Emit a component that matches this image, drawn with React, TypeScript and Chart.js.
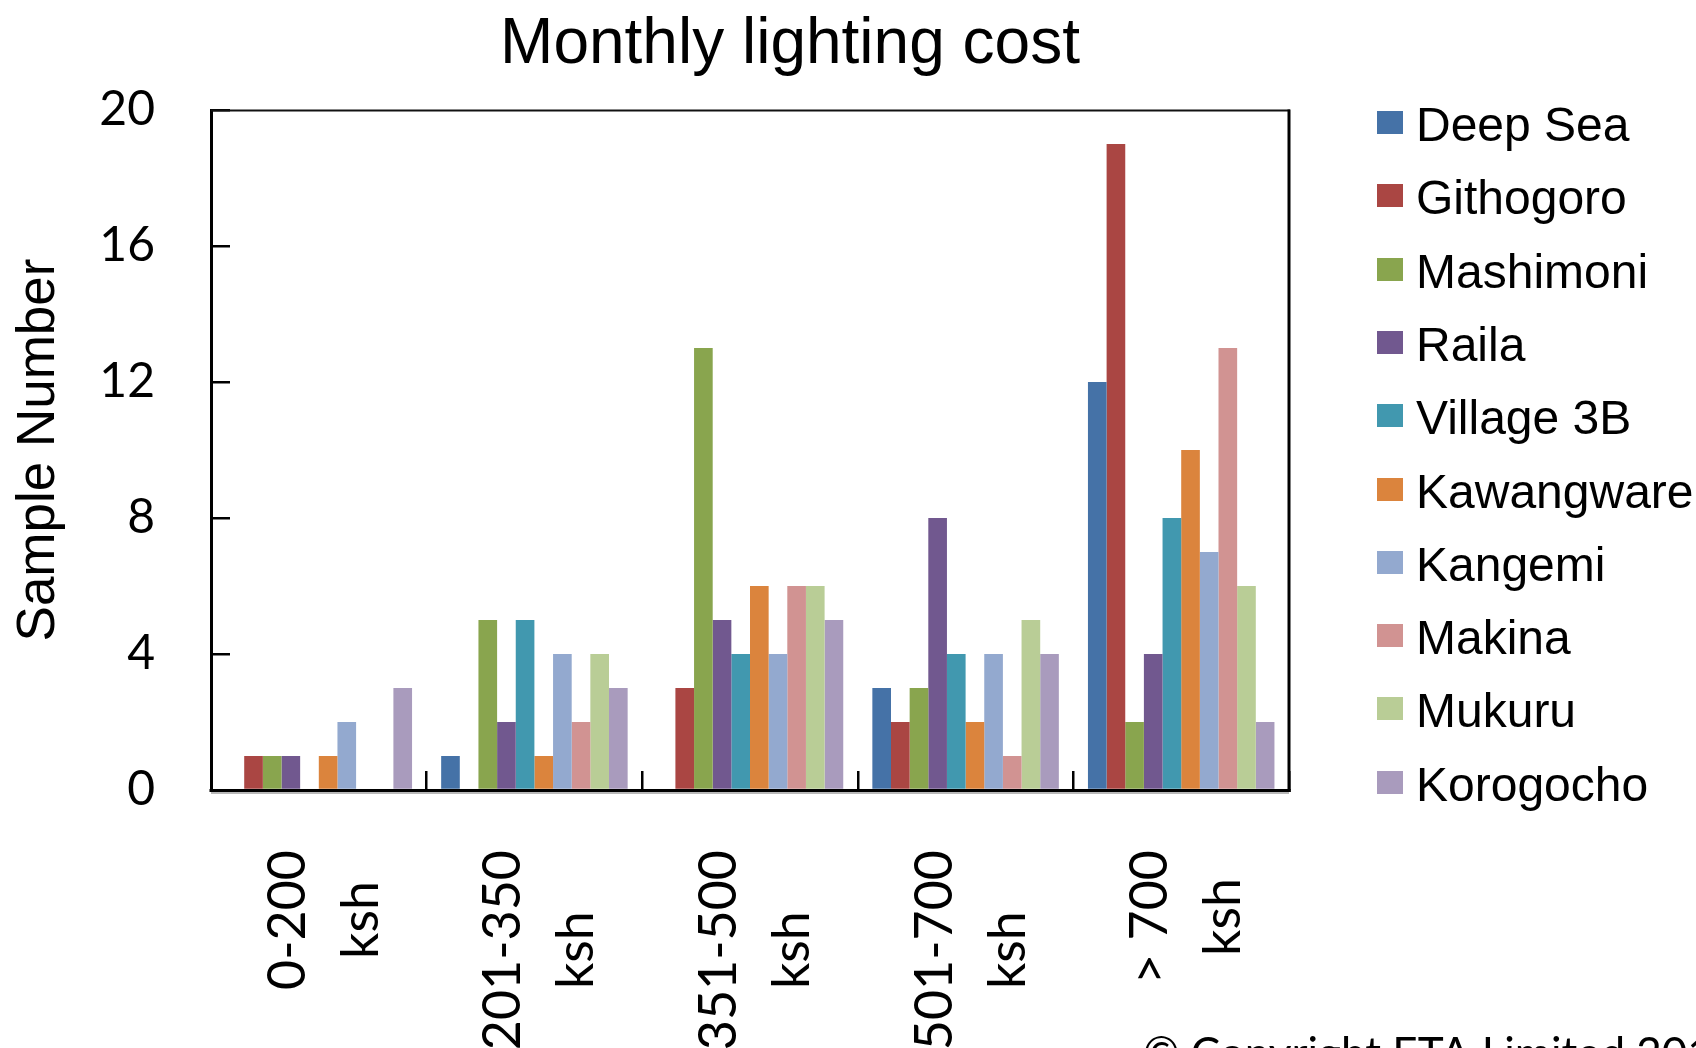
import React, { useEffect, useRef } from 'react';
import { Chart, registerables } from 'chart.js';

Chart.register(...registerables);

// ---- data ----
const categories: string[][] = [
  ['0-200', 'ksh'],
  ['201-350', 'ksh'],
  ['351-500', 'ksh'],
  ['501-700', 'ksh'],
  ['> 700', 'ksh'],
];

const seriesNames = [
  'Deep Sea',
  'Githogoro',
  'Mashimoni',
  'Raila',
  'Village 3B',
  'Kawangware',
  'Kangemi',
  'Makina',
  'Mukuru',
  'Korogocho',
];

const deepSea = [0, 1, 0, 3, 12];
const githogoro = [1, 0, 3, 2, 19];
const mashimoni = [1, 5, 13, 3, 2];
const raila = [1, 2, 5, 8, 4];
const village3B = [0, 5, 4, 4, 8];
const kawangware = [1, 1, 6, 2, 10];
const kangemi = [2, 4, 4, 4, 7];
const makina = [0, 2, 6, 1, 13];
const mukuru = [0, 4, 6, 5, 6];
const korogocho = [3, 3, 5, 4, 2];

const seriesValues = [
  deepSea,
  githogoro,
  mashimoni,
  raila,
  village3B,
  kawangware,
  kangemi,
  makina,
  mukuru,
  korogocho,
];

const seriesColors = [
  '#4572A7',
  '#AA4643',
  '#89A54E',
  '#71588F',
  '#4198AF',
  '#DB843D',
  '#93A9CF',
  '#D19392',
  '#B9CD96',
  '#A99BBD',
];

const yTicks = [0, 4, 8, 12, 16, 20];
const chartTitle = 'Monthly lighting cost';
const yAxisTitle = 'Sample Number';
const copyrightText = '\u00A9 Copyright ETA Limited 201';

// ---- decorations plugin ----
const decorPlugin = {
  id: 'decor',
  afterDatasetsDraw(chart: any) {
    const { ctx, chartArea: a } = chart;
    ctx.save();
    // top border
    ctx.strokeStyle = '#111';
    ctx.lineWidth = 2;
    ctx.beginPath();
    ctx.moveTo(a.left, a.top + 0.5);
    ctx.lineTo(a.right + 1, a.top + 0.5);
    ctx.stroke();
    // right border
    ctx.strokeStyle = '#000';
    ctx.lineWidth = 3;
    ctx.beginPath();
    ctx.moveTo(a.right, a.top - 0.5);
    ctx.lineTo(a.right, a.bottom);
    ctx.stroke();
    // bottom axis shadow + axis
    ctx.strokeStyle = 'rgba(0,0,0,0.28)';
    ctx.lineWidth = 2;
    ctx.beginPath();
    ctx.moveTo(a.left, a.bottom + 3);
    ctx.lineTo(a.right, a.bottom + 3);
    ctx.stroke();
    ctx.strokeStyle = '#000';
    ctx.lineWidth = 3;
    ctx.beginPath();
    ctx.moveTo(a.left - 1.5, a.bottom + 0.5);
    ctx.lineTo(a.right + 1.5, a.bottom + 0.5);
    ctx.stroke();
    ctx.restore();
  },
  afterDraw(chart: any) {
    const { ctx, chartArea: a } = chart;
    const xScale = chart.scales.x;
    ctx.save();
    ctx.fillStyle = '#000';

    // title
    ctx.font = '64px "Liberation Sans", Arial, sans-serif';
    ctx.textAlign = 'center';
    ctx.textBaseline = 'alphabetic';
    ctx.fillText(chartTitle, 790, 63);

    // x category labels (rotated, lines centred on each other)
    ctx.font = '52px Lato, sans-serif';
    const labels = chart.data.labels as string[][];
    labels.forEach((lines, i) => {
      const px = xScale.getPixelForValue(i);
      const maxW = Math.max(...lines.map((l) => ctx.measureText(l).width));
      const cy = a.bottom + 60 + maxW / 2;
      ctx.save();
      ctx.translate(px, cy);
      ctx.rotate(-Math.PI / 2);
      ctx.textAlign = 'center';
      ctx.textBaseline = 'alphabetic';
      lines.forEach((line, j) => {
        ctx.fillText(line, 0, -14 + j * 73);
      });
      ctx.restore();
    });

    // legend
    ctx.font = '48px "Liberation Sans", Arial, sans-serif';
    ctx.textAlign = 'left';
    ctx.textBaseline = 'alphabetic';
    chart.data.datasets.forEach((ds: any, i: number) => {
      const cy = 122.5 + i * 73.3;
      ctx.fillStyle = ds.backgroundColor;
      ctx.fillRect(1377, Math.round(cy - 11.5), 26, 23);
      ctx.fillStyle = '#000';
      ctx.fillText(ds.label, 1416, cy + 18.5);
    });

    // copyright (clipped at bottom)
    ctx.font = '44px Lato, sans-serif';
    ctx.fillStyle = '#000';
    ctx.fillText(copyrightText, 1143, 1069);
    ctx.restore();
  },
};

export default function App() {
  const ref = useRef<HTMLCanvasElement>(null);

  useEffect(() => {
    document.body.style.margin = '0';
    const canvas = ref.current!;
    const chart = new Chart(canvas, {
      type: 'bar',
      data: {
        labels: categories as any,
        datasets: seriesNames.map((name, i) => ({
          label: name,
          data: seriesValues[i],
          backgroundColor: seriesColors[i],
          borderWidth: 0,
          categoryPercentage: 0.865,
          barPercentage: 1,
        })),
      },
      options: {
        responsive: false,
        animation: false,
        devicePixelRatio: 1,
        layout: { padding: { top: 110, right: 407, bottom: 0, left: 0 } },
        plugins: {
          legend: { display: false },
          title: { display: false },
          tooltip: { enabled: false },
        },
        scales: {
          x: {
            type: 'category',
            grid: {
              display: true,
              drawOnChartArea: false,
              drawTicks: true,
              tickLength: -19,
              color: '#000',
              lineWidth: 2.5,
              offset: true,
            },
            border: { display: true, color: '#000', width: 3 },
            ticks: { display: false },
            afterFit: (s: any) => {
              s.height = 258;
            },
          },
          y: {
            min: 0,
            max: 20,
            afterBuildTicks: (s: any) => {
              s.ticks = yTicks.map((v) => ({ value: v }));
            },
            ticks: {
              padding: 75,
              color: '#000',
              font: { family: 'Lato', size: 48 },
            },
            grid: {
              drawOnChartArea: false,
              drawTicks: true,
              tickLength: -19,
              color: '#000',
              lineWidth: 2.5,
            },
            border: { display: true, color: '#000', width: 3 },
            title: {
              display: true,
              text: yAxisTitle,
              color: '#000',
              font: { family: 'Liberation Sans', size: 53 },
              padding: { top: 8, bottom: 0 },
            },
            afterFit: (s: any) => {
              s.width = 211;
            },
          },
        },
      } as any,
      plugins: [decorPlugin],
    });
    return () => chart.destroy();
  }, []);

  return (
    <div style={{ position: 'absolute', left: 0, top: 0, width: 1696, height: 1048, background: '#fff' }}>
      <canvas ref={ref} width={1696} height={1048} style={{ display: 'block' }} />
    </div>
  );
}
